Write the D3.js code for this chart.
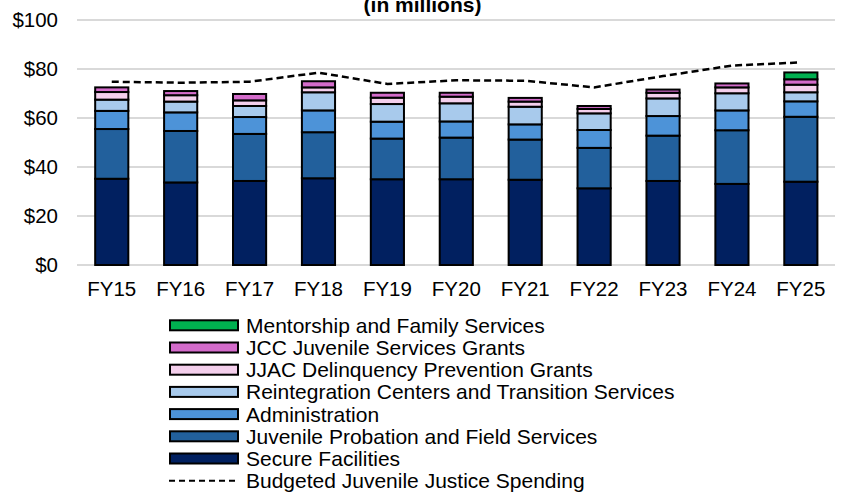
<!DOCTYPE html>
<html>
<head>
<meta charset="utf-8">
<script src="https://cdn.jsdelivr.net/npm/d3@7"></script>
<style>
  html, body { margin: 0; padding: 0; background: #fff; }
  svg { display: block; font-family: "Liberation Sans", Arial, sans-serif; }
</style>
</head>
<body>
<svg id="chart" width="841" height="494"></svg>
<script>
const years = ["FY15","FY16","FY17","FY18","FY19","FY20","FY21","FY22","FY23","FY24","FY25"];
const secure = [35.2, 33.7, 34.3, 35.4, 35.0, 35.0, 34.8, 31.3, 34.3, 33.1, 34.0];
const probation = [20.3, 21.0, 19.2, 18.8, 16.6, 17.0, 16.4, 16.5, 18.5, 21.9, 26.5];
const administration = [7.4, 7.6, 6.9, 8.9, 6.9, 6.6, 6.2, 7.3, 8.0, 8.1, 6.3];
const reintegration = [4.6, 4.4, 4.5, 7.4, 7.2, 7.4, 7.2, 6.8, 7.2, 7.0, 3.7];
const jjac = [3.1, 2.6, 2.3, 2.0, 2.6, 2.7, 2.1, 1.8, 2.3, 2.4, 3.1];
const jcc = [1.9, 1.7, 2.6, 2.5, 2.0, 1.6, 1.5, 1.2, 1.3, 1.6, 2.2];
const mentorship = [0, 0, 0, 0, 0, 0, 0, 0, 0, 0, 2.8];
const budgeted = [74.8, 74.4, 74.8, 78.5, 73.9, 75.4, 75.2, 72.5, 77.1, 81.4, 82.7];
const yTicks = [0, 20, 40, 60, 80, 100];

const seriesNames = ["Secure Facilities", "Juvenile Probation and Field Services", "Administration",
  "Reintegration Centers and Transition Services", "JJAC Delinquency Prevention Grants",
  "JCC Juvenile Services Grants", "Mentorship and Family Services"];
const seriesValues = [secure, probation, administration, reintegration, jjac, jcc, mentorship];
const seriesColors = ["#012060", "#22609c", "#4d93d8", "#a8caec", "#f4cfec", "#d36bca", "#00b050"];
const lineName = "Budgeted Juvenile Justice Spending";

const svg = d3.select("#chart");
const x = d3.scaleBand().domain(years).range([77.3, 835.3]).paddingInner(0.49).paddingOuter(0.245);
const y = d3.scaleLinear().domain([0, 100]).range([265, 20]);

// title (partially clipped at top)
svg.append("text").attr("x", 422.5).attr("y", 11.5).attr("text-anchor", "middle")
  .attr("font-size", 21).attr("font-weight", "bold").attr("fill", "#000").text("(in millions)");

// gridlines
svg.append("g").selectAll("line").data(yTicks).join("line")
  .attr("x1", 77).attr("x2", 835).attr("y1", d => y(d)).attr("y2", d => y(d))
  .attr("stroke", "#d9d9d9").attr("stroke-width", 2);

// y axis labels
const yAxis = d3.axisLeft(y).tickValues(yTicks).tickFormat(d => "$" + d).tickSize(0).tickPadding(0);
const gy = svg.append("g").attr("transform", "translate(58,0)").call(yAxis);
gy.select(".domain").remove();
gy.selectAll("text").attr("font-size", 20.5).attr("fill", "#000").attr("font-family", "Liberation Sans, Arial, sans-serif");

// x axis labels
const xAxis = d3.axisBottom(x).tickSize(0).tickPadding(0);
const gx = svg.append("g").attr("transform", "translate(0,281)").call(xAxis);
gx.select(".domain").remove();
gx.selectAll("text").attr("font-size", 20.5).attr("fill", "#000").attr("dy", "0.71em").attr("font-family", "Liberation Sans, Arial, sans-serif");

// stacked data
const rows = years.map((yr, i) => {
  const r = { year: yr };
  seriesNames.forEach((n, k) => r[n] = seriesValues[k][i]);
  return r;
});
const stack = d3.stack().keys(seriesNames)(rows);

const bw = x.bandwidth();
const gBars = svg.append("g");
stack.forEach((layer, k) => {
  gBars.append("g").selectAll("rect")
    .data(layer.filter(d => d[1] - d[0] > 0))
    .join("rect")
    .attr("x", d => x(d.data.year) + 1)
    .attr("width", bw - 2)
    .attr("y", d => y(d[1]))
    .attr("height", d => y(d[0]) - y(d[1]))
    .attr("fill", seriesColors[k])
    .attr("stroke", "#000")
    .attr("stroke-width", 2);
});

// budget line
const line = d3.line().x((d, i) => x(years[i]) + bw / 2).y(d => y(d));
svg.append("path").datum(budgeted).attr("d", line)
  .attr("fill", "none").attr("stroke", "#000").attr("stroke-width", 2.5).attr("stroke-dasharray", "7,4");

// legend
const legendOrder = [6, 5, 4, 3, 2, 1, 0];
const lg = svg.append("g");
legendOrder.forEach((k, i) => {
  const cy = 325.3 + i * 22.2;
  lg.append("rect").attr("x", 170).attr("y", cy - 5).attr("width", 68).attr("height", 10)
    .attr("fill", seriesColors[k]).attr("stroke", "#000").attr("stroke-width", 2);
  lg.append("text").attr("x", 246).attr("y", cy).attr("dy", "0.36em")
    .attr("font-size", 21).attr("fill", "#000").text(seriesNames[k]);
});
{
  const cy = 325.3 + 7 * 22.2;
  lg.append("line").attr("x1", 169).attr("x2", 239).attr("y1", cy).attr("y2", cy)
    .attr("stroke", "#000").attr("stroke-width", 2).attr("stroke-dasharray", "6,4");
  lg.append("text").attr("x", 246).attr("y", cy).attr("dy", "0.36em")
    .attr("font-size", 21).attr("fill", "#000").text(lineName);
}
</script>
</body>
</html>
